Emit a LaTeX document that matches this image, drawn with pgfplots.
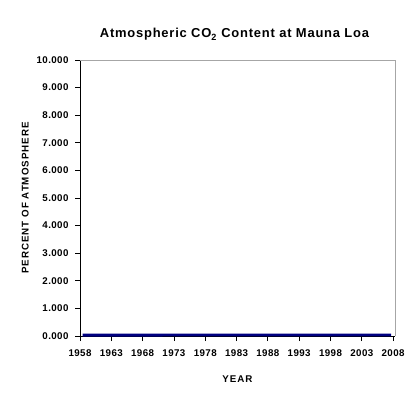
\documentclass[border=0pt]{standalone}
\usepackage{pgfplots}
\pgfplotsset{compat=1.18}
\usepackage{fontspec}
\setmainfont{Liberation Sans}
\newfontfamily\spaced[LetterSpace=10]{Liberation Sans}
\newfontfamily\titlefont[LetterSpace=6]{Liberation Sans}
\newfontfamily\tickfont[LetterSpace=4]{Liberation Sans}
\definecolor{navyline}{RGB}{0,0,128}
\begin{document}
\begin{tikzpicture}[x=1bp,y=1bp]
\path[use as bounding box] (-80bp,-60bp) rectangle (330bp,336bp);
\begin{axis}[
  at={(0,0)}, anchor=south west,
  scale only axis, width=315bp, height=276bp,
  xmin=1958, xmax=2008.3, ymin=0, ymax=10,
  xtick={1958,1963,...,2008}, ytick={0,1,...,10},
  axis lines*=left,
  axis line style={black, line width=0.8bp, -},
  tick align=outside, major tick length=5bp,
  tick style={black, line width=0.8bp},
  /pgf/number format/assume math mode=true,
  xticklabel style={font=\tickfont\fontsize{9.8}{11}\selectfont\bfseries, /pgf/number format/1000 sep={}, yshift=-5bp},
  yticklabel style={font=\tickfont\fontsize{9.8}{11}\selectfont\bfseries, xshift=-3bp, /pgf/number format/fixed, /pgf/number format/fixed zerofill, /pgf/number format/precision=3},
  xlabel={YEAR}, ylabel={PERCENT OF ATMOSPHERE},
  xlabel style={font=\spaced\fontsize{9.8}{11}\selectfont\bfseries, yshift=-12bp},
  ylabel style={font=\spaced\fontsize{9.8}{11}\selectfont\bfseries, yshift=1bp},
  title={Atmospheric CO\textsubscript{2} Content at Mauna Loa},
  title style={font=\titlefont\fontsize{13}{15}\selectfont\bfseries, yshift=10bp, xshift=-3bp},
  clip=false,
]
\draw[gray!70, line width=0.8bp] (rel axis cs:0,1) -- (rel axis cs:1,1) -- (rel axis cs:1,0);
\addplot[navyline, line width=2.8bp, no markers] table {
x y
1958.4 0.03153
1959.5 0.03160
1960.5 0.03169
1961.5 0.03176
1962.5 0.03185
1963.5 0.03190
1964.5 0.03196
1965.5 0.03200
1966.5 0.03214
1967.5 0.03222
1968.5 0.03230
1969.5 0.03246
1970.5 0.03257
1971.5 0.03263
1972.5 0.03275
1973.5 0.03297
1974.5 0.03302
1975.5 0.03311
1976.5 0.03320
1977.5 0.03338
1978.5 0.03354
1979.5 0.03368
1980.5 0.03388
1981.5 0.03401
1982.5 0.03415
1983.5 0.03431
1984.5 0.03447
1985.5 0.03461
1986.5 0.03474
1987.5 0.03492
1988.5 0.03516
1989.5 0.03531
1990.5 0.03544
1991.5 0.03556
1992.5 0.03565
1993.5 0.03571
1994.5 0.03588
1995.5 0.03608
1996.5 0.03626
1997.5 0.03637
1998.5 0.03667
1999.5 0.03684
2000.5 0.03696
2001.5 0.03711
2002.5 0.03733
2003.5 0.03758
2004.5 0.03775
2005.5 0.03798
2006.5 0.03819
2007.7 0.03845
};
\end{axis}
\end{tikzpicture}
\end{document}
